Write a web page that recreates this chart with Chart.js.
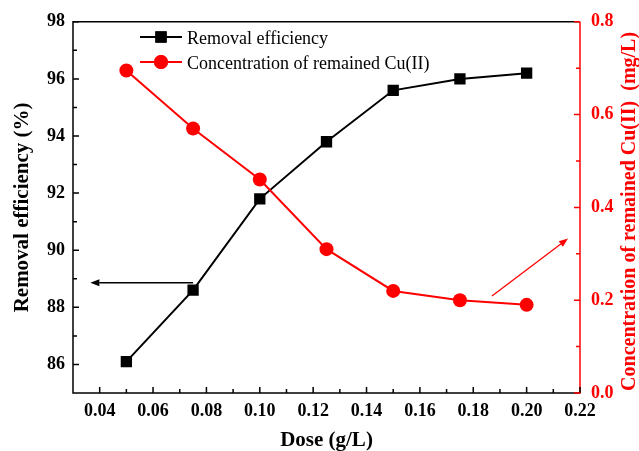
<!DOCTYPE html>
<html>
<head>
<meta charset="utf-8">
<script src="https://cdn.jsdelivr.net/npm/chart.js@4/dist/chart.umd.min.js"></script>
<style>
html,body{margin:0;padding:0;background:#fff;}
#wrap{width:639px;height:451px;position:relative;}
</style>
</head>
<body>
<div id="wrap"><canvas id="c" width="639" height="451"></canvas></div>
<script>
// ---- data ----
const doses = [0.05, 0.075, 0.10, 0.125, 0.15, 0.175, 0.20];
const removalEfficiency = [86.1, 88.6, 91.8, 93.8, 95.6, 96.0, 96.2];
const remainedCu = [0.695, 0.57, 0.46, 0.31, 0.22, 0.20, 0.19];
const xTickValues = [0.04, 0.06, 0.08, 0.10, 0.12, 0.14, 0.16, 0.18, 0.20, 0.22];
const leftTickValues = [86, 88, 90, 92, 94, 96, 98];
const rightTickValues = [0.0, 0.2, 0.4, 0.6, 0.8];
const seriesLabels = ['Removal efficiency', 'Concentration of remained Cu(II)'];
const rightAxisTitle = 'Concentration of remained Cu(II)  (mg/L)';

const RED = '#ff0000';
const FONT = "'Liberation Serif', 'Times New Roman', serif";

const pts = (ys) => doses.map((d, i) => ({x: d, y: ys[i]}));

const decor = {
  id: 'decor',
  afterDraw(chart) {
    const ctx = chart.ctx;
    const {left, right, top, bottom} = chart.chartArea;
    const xs = chart.scales.x, yl = chart.scales.y, yr = chart.scales.y1;
    ctx.save();
    // frame
    ctx.lineWidth = 1.5;
    ctx.strokeStyle = '#000';
    ctx.beginPath();
    ctx.moveTo(right, top); ctx.lineTo(left, top); ctx.lineTo(left, bottom); ctx.lineTo(right, bottom);
    ctx.stroke();
    ctx.strokeStyle = RED;
    ctx.beginPath(); ctx.moveTo(right, top); ctx.lineTo(right, bottom + 0.75); ctx.stroke();

    // ticks
    ctx.lineWidth = 1.5;
    ctx.strokeStyle = '#000';
    ctx.beginPath();
    xTickValues.forEach((v, i) => {
      const px = xs.getPixelForValue(v);
      ctx.moveTo(px, bottom); ctx.lineTo(px, bottom - 6);
      if (i < xTickValues.length - 1) {
        const m = xs.getPixelForValue((v + xTickValues[i + 1]) / 2);
        ctx.moveTo(m, bottom); ctx.lineTo(m, bottom - 4);
      }
    });
    leftTickValues.forEach((v, i) => {
      const py = yl.getPixelForValue(v);
      ctx.moveTo(left, py); ctx.lineTo(left + 6, py);
      if (i < leftTickValues.length - 1) {
        const m = yl.getPixelForValue((v + leftTickValues[i + 1]) / 2);
        ctx.moveTo(left, m); ctx.lineTo(left + 4, m);
      }
    });
    ctx.stroke();
    ctx.strokeStyle = RED;
    ctx.beginPath();
    rightTickValues.forEach((v, i) => {
      const py = yr.getPixelForValue(v);
      ctx.moveTo(right, py); ctx.lineTo(right - 6, py);
      if (i < rightTickValues.length - 1) {
        const m = yr.getPixelForValue((v + rightTickValues[i + 1]) / 2);
        ctx.moveTo(right, m); ctx.lineTo(right - 4, m);
      }
    });
    ctx.stroke();

    // right axis title, reading bottom-to-top
    ctx.save();
    ctx.translate(630, (top + bottom) / 2 + 4);
    ctx.rotate(-Math.PI / 2);
    ctx.fillStyle = RED;
    ctx.font = 'bold 20px ' + FONT;
    ctx.textAlign = 'center';
    ctx.textBaseline = 'middle';
    ctx.fillText(rightAxisTitle, 0, 0);
    ctx.restore();

    // arrows (annotations, in data coordinates)
    const arrow = (x1, y1, x2, y2, color, lw, hl, hw) => {
      ctx.strokeStyle = color; ctx.fillStyle = color; ctx.lineWidth = lw;
      const a = Math.atan2(y2 - y1, x2 - x1);
      const bx = x2 - hl * Math.cos(a), by = y2 - hl * Math.sin(a);
      ctx.beginPath(); ctx.moveTo(x1, y1); ctx.lineTo(bx, by); ctx.stroke();
      ctx.beginPath();
      ctx.moveTo(x2, y2);
      ctx.lineTo(bx + hw * Math.sin(a), by - hw * Math.cos(a));
      ctx.lineTo(bx - hw * Math.sin(a), by + hw * Math.cos(a));
      ctx.closePath(); ctx.fill();
    };
    arrow(xs.getPixelForValue(0.075), yl.getPixelForValue(88.86),
          xs.getPixelForValue(0.0365), yl.getPixelForValue(88.86), '#000', 1.5, 9, 3.5);
    arrow(xs.getPixelForValue(0.187), yr.getPixelForValue(0.209),
          xs.getPixelForValue(0.2155), yr.getPixelForValue(0.333), RED, 1.3, 9, 3.5);

    // legend
    const ds = chart.data.datasets;
    const legendRows = [37, 62];
    ds.forEach((d, i) => {
      const y = legendRows[i];
      ctx.strokeStyle = d.borderColor; ctx.fillStyle = d.backgroundColor; ctx.lineWidth = 2;
      ctx.beginPath(); ctx.moveTo(140, y); ctx.lineTo(182, y); ctx.stroke();
      Chart.helpers.drawPoint(ctx, {pointStyle: d.pointStyle, radius: d.pointRadius, borderWidth: 0}, 161, y);
      ctx.fill();
      ctx.fillStyle = '#000';
      ctx.font = '18px ' + FONT;
      ctx.textBaseline = 'middle';
      ctx.textAlign = 'left';
      ctx.fillText(d.label, 187, y + 2);
    });
    ctx.restore();
  }
};

new Chart(document.getElementById('c'), {
  type: 'line',
  data: {
    datasets: [
      {
        label: seriesLabels[0],
        data: pts(removalEfficiency),
        yAxisID: 'y',
        borderColor: '#000',
        backgroundColor: '#000',
        borderWidth: 2,
        pointStyle: 'rect',
        pointRadius: 8,
        pointBorderWidth: 0,
        order: 1
      },
      {
        label: seriesLabels[1],
        data: pts(remainedCu),
        yAxisID: 'y1',
        borderColor: RED,
        backgroundColor: RED,
        borderWidth: 2,
        pointStyle: 'circle',
        pointRadius: 7,
        pointBorderWidth: 0,
        order: 0
      }
    ]
  },
  options: {
    responsive: false,
    animation: false,
    events: [],
    layout: {padding: {top: 18, left: 0, right: 0, bottom: 0}},
    plugins: {legend: {display: false}, tooltip: {enabled: false}},
    scales: {
      x: {
        type: 'linear', min: 0.03, max: 0.22,
        grid: {display: false, drawTicks: false},
        border: {display: false},
        afterBuildTicks: (s) => { s.ticks = xTickValues.map(v => ({value: v})); },
        afterFit: (s) => { s.height = 58; },
        ticks: {
          color: '#000', padding: 8, maxRotation: 0, autoSkip: false,
          font: {family: FONT, size: 18, weight: 'bold'},
          callback: (v) => Number(v).toFixed(2)
        },
        title: {
          display: true, text: 'Dose (g/L)', color: '#000',
          font: {family: FONT, size: 21, weight: 'bold', lineHeight: 1.0},
          padding: {top: 0, bottom: 0}
        }
      },
      y: {
        type: 'linear', position: 'left', min: 85, max: 98,
        grid: {display: false, drawTicks: false},
        border: {display: false},
        afterBuildTicks: (s) => { s.ticks = leftTickValues.map(v => ({value: v})); },
        afterFit: (s) => { s.width = 73; },
        ticks: {
          color: '#000', padding: 8, autoSkip: false,
          font: {family: FONT, size: 18, weight: 'bold'},
          callback: (v) => String(v)
        },
        title: {
          display: true, text: 'Removal efficiency (%)', color: '#000',
          font: {family: FONT, size: 21, weight: 'bold', lineHeight: 1.2},
          padding: {top: 10, bottom: 0}
        }
      },
      y1: {
        type: 'linear', position: 'right', min: 0, max: 0.8,
        grid: {display: false, drawTicks: false},
        border: {display: false},
        afterBuildTicks: (s) => { s.ticks = rightTickValues.map(v => ({value: v})); },
        afterFit: (s) => { s.width = 59; },
        ticks: {
          color: RED, padding: 11, autoSkip: false,
          font: {family: FONT, size: 18, weight: 'bold'},
          callback: (v) => Number(v).toFixed(1)
        },
        title: {display: false}
      }
    }
  },
  plugins: [decor]
});
</script>
</body>
</html>
